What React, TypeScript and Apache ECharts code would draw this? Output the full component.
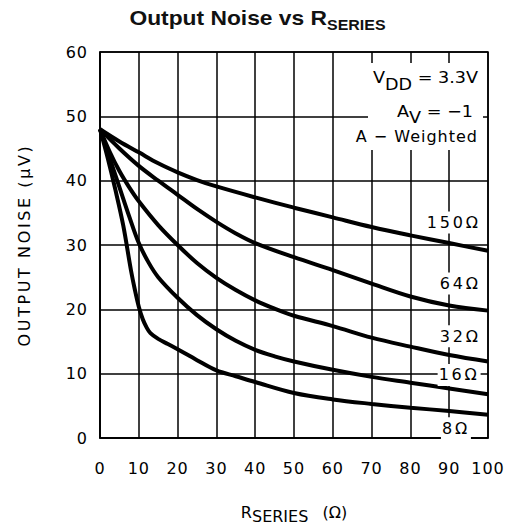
import React, { useEffect, useRef } from 'react';
import * as echarts from 'echarts';

// ---------- data ----------
const xTickInterval = 10;
const yTickInterval = 10;

const r150X = [0, 5, 10, 15, 20, 25, 30, 40, 50, 60, 70, 80, 90, 100];
const r150Y = [48, 46.1, 44.4, 42.7, 41.3, 40.1, 39.1, 37.4, 35.8, 34.3, 32.8, 31.5, 30.3, 29.1];

const r64X = [0, 5, 10, 15, 20, 25, 30, 35, 40, 50, 60, 70, 80, 90, 100];
const r64Y = [48, 45, 42.3, 40, 37.8, 35.6, 33.6, 31.8, 30.3, 28.1, 26.1, 24, 22, 20.6, 19.8];

const r32X = [0, 2.5, 5, 7.5, 10, 15, 20, 25, 30, 35, 40, 45, 50, 60, 70, 80, 90, 100];
const r32Y = [48, 44.5, 41.5, 39, 36.8, 33.1, 30, 27.2, 24.9, 23, 21.4, 20.1, 19, 17.4, 15.6, 14.2, 12.9, 11.9];

const r16X = [0, 2.5, 5, 7.5, 10, 12.5, 15, 20, 25, 30, 35, 40, 45, 50, 60, 70, 80, 90, 100];
const r16Y = [48, 43.5, 39, 34.5, 30.3, 27.3, 25, 21.8, 19.1, 16.9, 15.1, 13.7, 12.7, 11.9, 10.6, 9.5, 8.6, 7.7, 6.8];

const r8X = [0, 2, 4, 6, 8, 9, 10, 11, 12, 13, 15, 17.5, 20, 25, 30, 35, 40, 50, 60, 70, 80, 90, 100];
const r8Y = [48, 43.5, 38.5, 33, 26, 23, 20.4, 18.5, 17.2, 16.3, 15.4, 14.6, 13.8, 12.1, 10.5, 9.6, 8.7, 7, 6, 5.3, 4.7, 4.2, 3.6];

const curveNames = ['150Ω', '64Ω', '32Ω', '16Ω', '8Ω'];
const curveXs = [r150X, r64X, r32X, r16X, r8X];
const curveYs = [r150Y, r64Y, r32Y, r16Y, r8Y];
// label anchors (data units)
const labelAnchorX = [98.4, 98.4, 98.4, 98.1, 95.6];
const labelAnchorY = [33.5, 24.0, 15.8, 9.8, 1.5];

// ---------- styling ----------
const FONT = '"DejaVu Sans"';
const FONT_W = '"DejaVu Sans", Lato';      // y-axis name spacing
const FONT_L = '"DejaVu Sans", "Open Sans"'; // curve label spacing
const FONT_M = '"DejaVu Sans", Roboto';    // tick label spacing
const FONT_T = '"Liberation Sans", Arial, sans-serif';
const LS_W = 2.6;
const LS_L = 2.8;
const LS_M = 1;
const NB = '\u00a0';

const css = `
.nsc text[style*="Lato"], .nsc text[font-family*="Lato"] { letter-spacing: ${LS_W}px; }
.nsc text[style*="Open Sans"], .nsc text[font-family*="Open Sans"] { letter-spacing: ${LS_L}px; }
.nsc text[style*="Roboto"], .nsc text[font-family*="Roboto"] { letter-spacing: ${LS_M}px; }
`;

function buildOption() {
  const series = curveNames.map((name, i) => ({
    type: 'line',
    name,
    data: curveXs[i].map((x, k) => [x, curveYs[i][k]]),
    smooth: 0.35,
    symbol: 'none',
    lineStyle: { color: '#000', width: 4 },
    z: 3,
    markPoint: {
      silent: true,
      symbol: 'circle',
      symbolSize: 0,
      data: [
        {
          coord: [labelAnchorX[i], labelAnchorY[i]],
          label: {
            show: true,
            position: 'left',
            distance: 0,
            formatter: name,
            color: '#000',
            fontFamily: FONT_L,
            fontSize: 16,
            backgroundColor: '#fff',
            padding: [3, 1, 3, 1 + name.length * LS_L],
          },
        },
      ],
    },
  }));

  return {
    animation: false,
    backgroundColor: '#fff',
    grid: {
      left: 100,
      top: 52,
      width: 388,
      height: 386,
      show: true,
      borderColor: '#000',
      borderWidth: 1.5,
      outerBoundsMode: 'none',
      containLabel: false,
    },
    xAxis: {
      type: 'value',
      min: 0,
      max: 100,
      interval: xTickInterval,
      axisLine: { show: true, lineStyle: { color: '#000', width: 1.5 } },
      axisTick: { show: false },
      splitLine: { show: true, lineStyle: { color: '#000', width: 1.5 } },
      axisLabel: { color: '#000', fontFamily: FONT_M, fontSize: 16, margin: 22 },
      name: `{r|R}{s|SERIES}{p|${NB}(Ω)}`,
      nameLocation: 'middle',
      nameGap: 62,
      nameTextStyle: {
        color: '#000',
        fontFamily: FONT,
        fontSize: 16,
        rich: {
          r: { color: '#000', fontFamily: FONT, fontSize: 16 },
          s: { color: '#000', fontFamily: FONT, fontSize: 16, padding: [8, 0, 0, 0] },
          p: { color: '#000', fontFamily: FONT, fontSize: 16, padding: [0, 0, 0, 9] },
        },
      },
    },
    yAxis: {
      type: 'value',
      min: 0,
      max: 60,
      interval: yTickInterval,
      axisLine: { show: true, lineStyle: { color: '#000', width: 1.5 } },
      axisTick: { show: false },
      splitLine: { show: true, lineStyle: { color: '#000', width: 1.5 } },
      axisLabel: { color: '#000', fontFamily: FONT_M, fontSize: 16, margin: 12 },
      name: 'OUTPUT NOISE (μV)',
      nameLocation: 'middle',
      nameGap: 68,
      nameRotate: 90,
      nameTextStyle: { color: '#000', fontFamily: FONT_W, fontSize: 16 },
    },
    graphic: [
      {
        type: 'text',
        z: 10,
        x: 257.5,
        y: 18,
        scaleX: 1.14,
        style: {
          text: '{t|Output Noise vs R}{s|SERIES}',
          align: 'center',
          verticalAlign: 'middle',
          textAlign: 'center',
          textVerticalAlign: 'middle',
          fill: '#111',
          rich: {
            t: { fontFamily: FONT_T, fontSize: 20, fontWeight: 'bold', fill: '#111' },
            s: { fontFamily: FONT_T, fontSize: 14, fontWeight: 'bold', fill: '#111', padding: [14, 0, 0, 0] },
          },
        },
      },
      {
        type: 'rect',
        z: 5,
        shape: { x: 368, y: 63, width: 115, height: 87 },
        style: { fill: '#fff' },
      },
      {
        type: 'text',
        z: 10,
        x: 478,
        y: 77.5,
        scaleX: 1.1,
        style: {
          text: `{m|V}{s|DD}{n|${NB}=${NB}3.3V}`,
          align: 'right',
          verticalAlign: 'middle',
          textAlign: 'right',
          textVerticalAlign: 'middle',
          fill: '#000',
          rich: {
            m: { fontFamily: FONT, fontSize: 16, fill: '#000' },
            s: { fontFamily: FONT, fontSize: 16, fill: '#000', padding: [13, 0, 0, 0] },
            n: { fontFamily: FONT, fontSize: 16, fill: '#000' },
          },
        },
      },
      {
        type: 'text',
        z: 10,
        x: 473,
        y: 111,
        scaleX: 1.1,
        style: {
          text: `{m|A}{s|V}{n|${NB}=${NB}−1}`,
          align: 'right',
          verticalAlign: 'middle',
          textAlign: 'right',
          textVerticalAlign: 'middle',
          fill: '#000',
          rich: {
            m: { fontFamily: FONT, fontSize: 16, fill: '#000' },
            s: { fontFamily: FONT, fontSize: 16, fill: '#000', padding: [13, 0, 0, 0] },
            n: { fontFamily: FONT, fontSize: 16, fill: '#000' },
          },
        },
      },
      {
        type: 'text',
        z: 10,
        x: 478,
        y: 136,
        style: {
          text: 'A − Weighted',
          align: 'right',
          verticalAlign: 'middle',
          textAlign: 'right',
          textVerticalAlign: 'middle',
          fill: '#000',
          fontFamily: FONT_M,
          fontSize: 16,
        },
      },
    ],
    series,
  };
}

export default function App() {
  const ref = useRef<HTMLDivElement>(null);
  useEffect(() => {
    if (!ref.current) return;
    const chart = echarts.init(ref.current, null, { renderer: 'svg' });
    chart.setOption(buildOption() as any);
    return () => {
      chart.dispose();
    };
  }, []);
  return (
    <>
      <style>{css}</style>
      <div
        ref={ref}
        className="nsc"
        style={{ position: 'absolute', left: 0, top: 0, width: 506, height: 527, background: '#fff' }}
      />
    </>
  );
}
